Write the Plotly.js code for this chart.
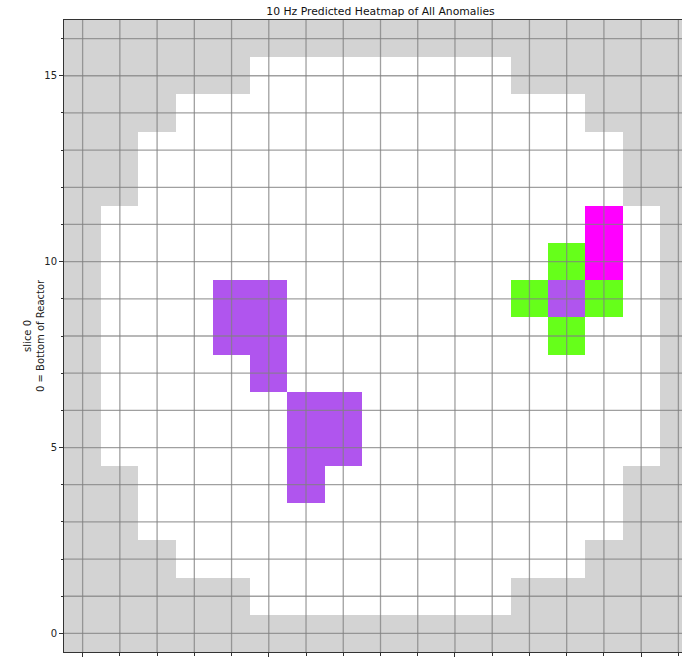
<!DOCTYPE html>
<html>
<head>
<meta charset="utf-8">
<script src="https://cdn.plot.ly/plotly-3.0.1.min.js"></script>
<style>
  html, body { margin: 0; padding: 0; overflow: hidden; background: #fff; }
  #chart { width: 700px; height: 700px; }
</style>
</head>
<body>
<div id="chart"></div>
<script>
// Grid coordinates (columns x, rows y = slice positions)
const cols = [0,1,2,3,4,5,6,7,8,9,10,11,12,13,14,15,16];
const rows = [0,1,2,3,4,5,6,7,8,9,10,11,12,13,14,15,16];

// Reactor interior (white) per row: first and last column inside, null = none
const insideStart = [null,5,3,2,2,1,1,1,1,1,1,1,2,2,3,5,null];
const insideEnd   = [null,11,13,14,14,15,15,15,15,15,15,15,14,14,13,11,null];

// Anomaly cells
const purpleX  = [4,5,4,5,5,6,7,6,7,6,13];
const purpleY  = [8,8,9,9,7,5,5,6,6,4,9];
const greenX   = [12,14,13,13];
const greenY   = [9,9,10,8];
const magentaX = [14,14];
const magentaY = [10,11];

// Category codes: 0 outside, 1 inside, 2 purple, 3 green, 4 magenta
const z = rows.map((r) => cols.map((c) => {
  const s = insideStart[r], e = insideEnd[r];
  return (s !== null && c >= s && c <= e) ? 1 : 0;
}));
purpleX.forEach((c, i) => { z[purpleY[i]][c] = 2; });
greenX.forEach((c, i) => { z[greenY[i]][c] = 3; });
magentaX.forEach((c, i) => { z[magentaY[i]][c] = 4; });

const gray = '#d3d3d3', white = '#ffffff', purple = '#b055ee', green = '#66ff1a', magenta = '#ff00ff';
const colorscale = [
  [0, gray], [0.2, gray],
  [0.2, white], [0.4, white],
  [0.4, purple], [0.6, purple],
  [0.6, green], [0.8, green],
  [0.8, magenta], [1, magenta]
];

const trace = {
  type: 'heatmap',
  x: cols, y: rows, z: z,
  zmin: -0.5, zmax: 4.5,
  colorscale: colorscale,
  showscale: false,
  hoverinfo: 'skip'
};

// Grid lines drawn above the heatmap (matplotlib style grid on top)
const gridColor = 'rgba(128,128,128,0.75)';
const gridShapes = [];
cols.forEach((c) => gridShapes.push({
  type: 'line', layer: 'above', xref: 'x', yref: 'paper', x0: c, x1: c, y0: 0, y1: 1,
  line: { color: gridColor, width: 1.3 }
}));
rows.forEach((r) => gridShapes.push({
  type: 'line', layer: 'above', xref: 'paper', yref: 'y', x0: 0, x1: 1, y0: r, y1: r,
  line: { color: gridColor, width: 1.3 }
}));

const axisCommon = {
  range: [-0.5, 16.5],
  dtick: 5, tick0: 0,
  ticks: 'outside', ticklen: 4, tickwidth: 1, tickcolor: '#333',
  showgrid: false,
  minor: { dtick: 1, tick0: 0, ticks: 'outside', ticklen: 2.5, tickcolor: '#333', showgrid: false },
  showline: true, linecolor: '#333', linewidth: 1, mirror: true,
  zeroline: false,
  layer: 'above traces',
  tickfont: { family: 'DejaVu Sans', size: 10, color: '#222' },
  fixedrange: true
};

const layout = {
  width: 700, height: 700,
  margin: { l: 64, r: 3, t: 20, b: 48 },
  paper_bgcolor: '#fff', plot_bgcolor: '#fff',
  font: { family: 'DejaVu Sans', size: 10, color: '#222' },
  title: {
    text: '10 Hz Predicted Heatmap of All Anomalies',
    font: { family: 'DejaVu Sans', size: 10.8, color: '#111' },
    x: 0.5, xref: 'paper', xanchor: 'center',
    y: 1 - 11 / 700, yref: 'container', yanchor: 'middle'
  },
  xaxis: Object.assign({}, axisCommon),
  yaxis: Object.assign({}, axisCommon),
  shapes: gridShapes,
  annotations: [{
    text: 'slice 0<br>0 = Bottom of Reactor',
    xref: 'paper', yref: 'paper', x: 0, y: 0.5,
    xanchor: 'center', yanchor: 'middle', xshift: -30,
    textangle: -90, showarrow: false,
    font: { family: 'DejaVu Sans', size: 10, color: '#222' }
  }],
  showlegend: false
};

Plotly.newPlot('chart', [trace], layout, { staticPlot: true, displayModeBar: false });
</script>
</body>
</html>
